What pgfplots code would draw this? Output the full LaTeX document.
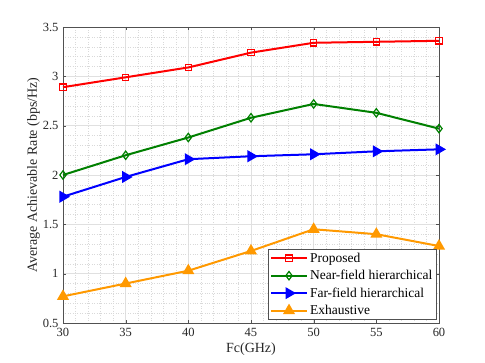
\documentclass[border=0pt]{standalone}
\usepackage{pgfplots}
\pgfplotsset{compat=1.18}
\usepackage{fontspec}
\setmainfont{Liberation Serif}
\definecolor{axgray}{RGB}{38,38,38}
\definecolor{myorange}{RGB}{255,153,0}
\definecolor{mygreen}{RGB}{0,128,0}
\pgfplotsset{
  longleg/.style={legend image code/.code={
      \draw[mark repeat=2,mark phase=2] plot coordinates {(0pt,0pt) (18pt,0pt) (36pt,0pt)};
  }},
}
\begin{document}
\begin{tikzpicture}
  \begin{axis}[
    scale only axis,
    width=376pt, height=296pt,
    xmin=30, xmax=60, ymin=0.5, ymax=3.5,
    xtick={30,35,...,60},
    ytick={0.5,1,...,3.5},
    yticklabels={0.5,1,1.5,2,2.5,3,3.5},
    minor x tick num=4, minor y tick num=4,
    grid=both,
    major grid style={draw=black!12, line width=0.6pt},
    minor grid style={draw=black!15, dotted, line width=0.4pt},
    axis line style={draw=axgray!80, line width=0.6pt},
    tick style={draw=axgray!80},
    tick align=inside,
    minor tick length=0pt,
    major tick length=3pt,
    ticklabel style={font=\fontsize{12.5}{14}\selectfont, text=axgray},
    xticklabel style={yshift=-2pt},
    yticklabel style={xshift=-1pt},
    /pgf/number format/assume math mode=true,
    xlabel={Fc(GHz)},
    ylabel={Average Achievable Rate (bps/Hz)},
    label style={font=\fontsize{14}{16}\selectfont, text=axgray},
    xlabel style={yshift=1pt},
    ylabel style={yshift=-4pt},
    legend style={at={(rel axis cs:0.992,0.011)}, anchor=south east,
      font=\fontsize{13.5}{15}\selectfont, draw=axgray!80, fill=white,
      inner sep=1.5pt, row sep=2.5pt, cells={anchor=west}},
    every axis plot/.append style={line width=2pt},
    clip=false,
  ]
    \addplot[longleg, color=red, mark=square, mark options={line width=1.2pt, mark size=3.2pt}] coordinates {
      (30,2.89) (35,2.99) (40,3.09) (45,3.24) (50,3.34) (55,3.35) (60,3.36)
    };
    \addlegendentry{Proposed}
    \addplot[longleg, color=mygreen, mark=diamond, mark options={line width=1.2pt, mark size=4.2pt}] coordinates {
      (30,2.00) (35,2.20) (40,2.38) (45,2.58) (50,2.72) (55,2.63) (60,2.47)
    };
    \addlegendentry{Near-field hierarchical}
    \addplot[longleg, color=blue, mark=triangle*, mark options={rotate=-90, mark size=5pt}] coordinates {
      (30,1.78) (35,1.98) (40,2.16) (45,2.19) (50,2.21) (55,2.24) (60,2.26)
    };
    \addlegendentry{Far-field hierarchical}
    \addplot[longleg, color=myorange, mark=triangle*, mark options={mark size=5pt}] coordinates {
      (30,0.77) (35,0.90) (40,1.03) (45,1.23) (50,1.45) (55,1.40) (60,1.28)
    };
    \addlegendentry{Exhaustive}
  \end{axis}
  \path[use as bounding box] ([shift={(-63pt,-40pt)}]current axis.south west)
    rectangle ([shift={(46pt,27pt)}]current axis.north east);
\end{tikzpicture}
\end{document}
